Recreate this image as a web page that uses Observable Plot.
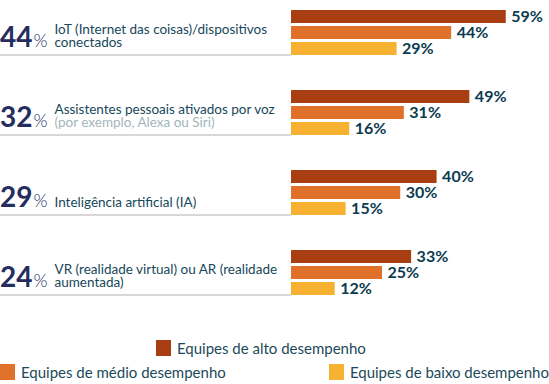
<!DOCTYPE html>
<html><head><meta charset="utf-8">
<script src="https://cdn.jsdelivr.net/npm/d3@7"></script>
<script src="https://cdn.jsdelivr.net/npm/@observablehq/plot@0.6"></script>
<style>
body{margin:0;background:#fff;font-family:Lato,"Open Sans",sans-serif}
#chart{position:relative;width:549px;height:384px;overflow:hidden}
#chart svg{display:block}
.legend{position:absolute;left:0;width:549px;font-size:15px;color:#1d4a5a;display:flex;align-items:center}
.legend .item{display:flex;align-items:center;white-space:nowrap}
.legend .sw{width:15px;height:16px;margin-right:6px;flex:none}
#row1{top:340px;height:16px;padding-left:156px;box-sizing:border-box}
#row2{top:364px;height:16px;justify-content:space-between}
</style></head><body><div id="chart"></div>
<script>
const groups = ["IoT", "Voz", "IA", "VR/AR"];
const overall = [44, 32, 29, 24];
const labelMain = [
  "IoT (Internet das coisas)/dispositivos\nconectados",
  "Assistentes pessoais ativados por voz",
  "Inteligência artificial (IA)",
  "VR (realidade virtual) ou AR (realidade\naumentada)"
];
const labelNote = ["", "(por exemplo, Alexa ou Siri)", "", ""];
const series = ["Equipes de alto desempenho", "Equipes de médio desempenho", "Equipes de baixo desempenho"];
const highValues = [59, 49, 40, 33];
const midValues = [44, 31, 30, 25];
const lowValues = [29, 16, 15, 12];
const colors = ["#a93e13", "#e0712a", "#f5b12f"];

const valuesBySeries = [highValues, midValues, lowValues];
const tidy = [];
groups.forEach((g, i) => series.forEach((s, j) => tidy.push({group: g, series: s, value: valuesBySeries[j][i]})));
const groupData = groups.map((g, i) => ({
  group: g, overall: overall[i],
  label: labelNote[i] ? labelMain[i] + "\n" + labelNote[i] : labelMain[i]
}));

const teal = "#17475a", navy = "#252d5e", gray = "#a3b4bb", valColor = "#0b3b4f";

const chart = Plot.plot({
  width: 549, height: 330,
  marginTop: 7, marginBottom: 33.4, marginLeft: 0, marginRight: 258,
  x: {domain: [0, 100], range: [291, 655], axis: null},
  y: {domain: series, axis: null, paddingInner: 0.2, paddingOuter: 0},
  fy: {domain: groups, axis: null, paddingInner: 0.42, paddingOuter: 0},
  color: {domain: series, range: colors},
  style: {fontFamily: "Lato, 'Open Sans', sans-serif", background: "white"},
  marks: [
    Plot.ruleY(tidy.filter(d => d.series === series[2]), {y: "series", fy: "group", stroke: "#cbcbcb", strokeWidth: 1.5, dy: 6}),
    Plot.barX(tidy, {x: "value", y: "series", fy: "group", fill: "series"}),
    Plot.text(tidy, {x: "value", y: "series", fy: "group", text: d => d.value + "%", dx: 5, textAnchor: "start", fontSize: 16, fontWeight: 700, fill: valColor}),
    Plot.text(groupData, {fy: "group", frameAnchor: "left", text: d => String(d.overall), dx: 32, dy: 5.5, textAnchor: "end", fontSize: 28, fontWeight: 700, fill: navy}),
    Plot.text(groupData, {fy: "group", frameAnchor: "left", text: d => "%", dx: 33, dy: 8.5, textAnchor: "start", fontSize: 18, fontWeight: 300, fill: navy}),
    Plot.text(groupData, {fy: "group", frameAnchor: "left", text: "label", textAnchor: "start", lineAnchor: "bottom", lineHeight: 1, dx: 54, dy: 14.5, fontSize: 13.5, fill: teal})
  ]
});
d3.select(chart).selectAll("tspan").filter(function() { return labelNote.includes(this.textContent) && this.textContent; }).attr("fill", gray);
const root = document.getElementById("chart");
root.appendChild(chart);

const mk = (s, i) => {
  const it = document.createElement("div"); it.className = "item";
  const sw = document.createElement("div"); sw.className = "sw"; sw.style.background = colors[i];
  const tx = document.createElement("span"); tx.textContent = s;
  it.append(sw, tx); return it;
};
const row1 = document.createElement("div"); row1.className = "legend"; row1.id = "row1";
row1.append(mk(series[0], 0));
const row2 = document.createElement("div"); row2.className = "legend"; row2.id = "row2";
row2.append(mk(series[1], 1), mk(series[2], 2));
root.append(row1, row2);
</script></body></html>
